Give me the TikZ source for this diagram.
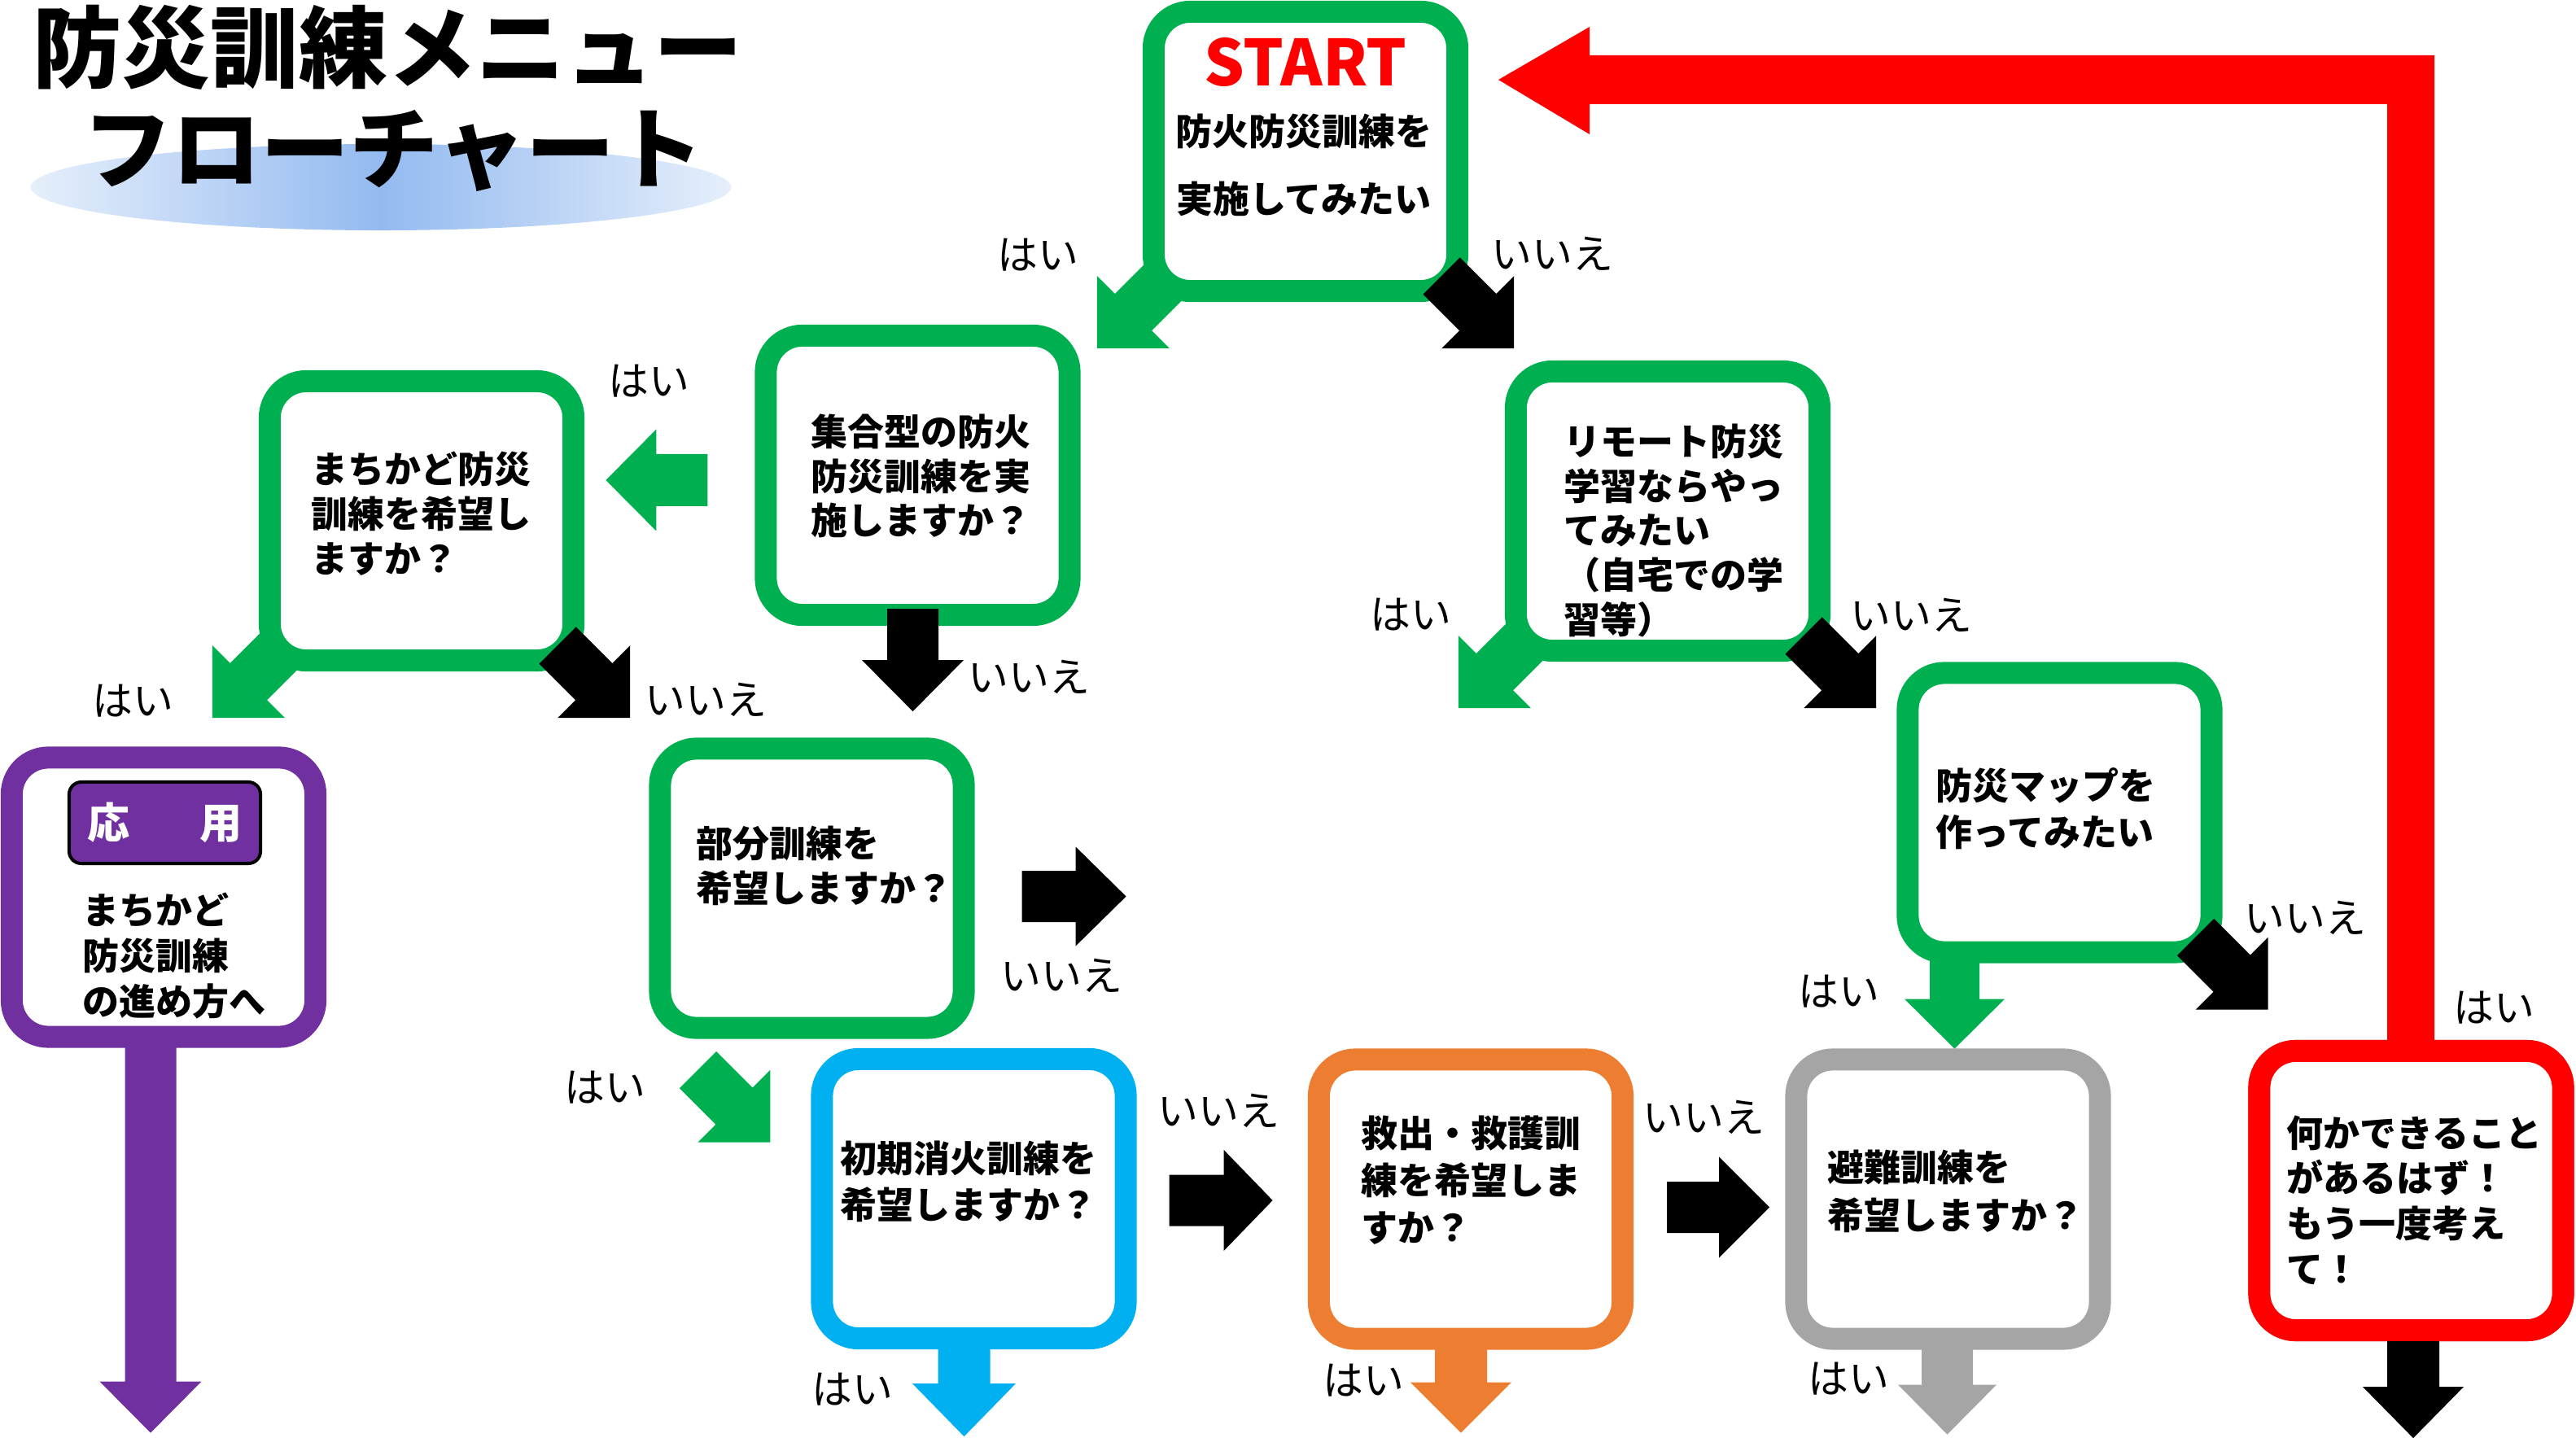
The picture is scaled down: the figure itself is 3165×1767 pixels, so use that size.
\documentclass[tikz,border=0pt]{standalone}
\usepackage{fontspec}
\newfontfamily\jp{Noto Sans CJK JP}
\usetikzlibrary{calc}
\definecolor{cgreen}{HTML}{00B050}
\definecolor{cblue}{HTML}{00B0F0}
\definecolor{corange}{HTML}{ED7D31}
\definecolor{cgray}{HTML}{A5A5A5}
\definecolor{cred}{HTML}{FF0000}
\definecolor{cpurple}{HTML}{7030A0}
\definecolor{elledge}{HTML}{E6EFFB}
\definecolor{ellmid}{HTML}{93BAF0}
\tikzset{
  pics/barrow/.style n args={4}{code={
    \fill (0,{-#2/2}) -- (#1,{-#2/2}) -- (#1,{-#4/2}) -- ({#1+#3},0) -- (#1,{#4/2}) -- (#1,{#2/2}) -- (0,{#2/2}) -- cycle;
  }},
}
\begin{document}
\begin{tikzpicture}[x=0.01cm,y=-0.01cm,
  flowbox/.style={draw=#1, fill=white, line width=0.27cm, rounded corners=0.45cm,
    minimum width=3.73cm, minimum height=3.43cm, inner sep=0pt},
  btxt/.style={anchor=north west, inner sep=0pt, align=left,
    font=\jp\bfseries\fontsize{12.8pt}{15.6pt}\selectfont},
  lbl/.style={anchor=north west, inner sep=0pt, font=\jp\fontsize{14.2pt}{17pt}\selectfont},
  ttl/.style={anchor=north west, inner sep=0pt, font=\jp\bfseries\fontsize{31pt}{36pt}\selectfont},
]
\useasboundingbox (0,0) rectangle (3165,1767);

% title
\shade[left color=elledge, right color=elledge, middle color=ellmid]
  (468,230) ellipse [x radius=4.3cm, y radius=0.53cm];
\node[ttl] (title1) at (40,5) {防災訓練メニュー};
\node[ttl] (title2) at (102,135) {フローチャート};

% centres of the boxes that have arrows underneath
\path (1604,186) coordinate (cstart)
      (1127.5,584) coordinate (cgather)
      (518,640) coordinate (cmachi)
      (2049,628) coordinate (cremote);

% green diagonal arrows under the boxes
\pic[cgreen, rotate=-135] at ($(cstart)+(-200,185)+(33,-32)$) {barrow={63}{64}{63}{126}};
\pic[cgreen, rotate=-135] at ($(cmachi)+(-201,185)+(33,-32)$) {barrow={63}{64}{63}{126}};
\pic[cgreen, rotate=-135] at ($(cremote)+(-201,185)+(33,-32)$) {barrow={63}{64}{63}{126}};

% red return path
\node[flowbox=cred] (nanika) at (2962.5,1463) {};
\fill[cred] ($(nanika.north)+(-29.5,8)$) |- (1953,128) -- (1953,165) -- (1841,98)
  -- (1953,33) -- (1953,68) -| ($(nanika.north)+(28.5,8)$) -- cycle;
\node[flowbox=cred] at (nanika) {};

\node[flowbox=cgreen] (start) at (cstart) {};
\node[flowbox=cgreen] (gather) at (cgather) {};
\node[flowbox=cgreen] (machi) at (cmachi) {};
\node[flowbox=cpurple] (ouyou) at (201,1102.5) {};
\node[flowbox=cgreen] (bubun) at (997.5,1091.5) {};
\node[flowbox=cblue] (shoki) at (1196.5,1473) {};
\node[flowbox=corange] (kyushutsu) at (1807,1473.5) {};
\node[flowbox=cgray] (hinan) at (2393.5,1473.5) {};
\node[flowbox=cgreen] (remote) at (cremote) {};
\node[flowbox=cgreen] (map) at (2530.5,998.5) {};

% texts
\node[anchor=north, inner sep=0pt, text=cred, font=\jp\bfseries\fontsize{22.2pt}{26pt}\selectfont] (starttxt) at (1604,46) {START};
\node[anchor=north, inner sep=0pt, align=center, font=\jp\bfseries\fontsize{12.8pt}{23.8pt}\selectfont] (starttxt2) at (1602,139) {防火防災訓練を\\実施してみたい};
\node[btxt] (gathertxt) at (996,508) {集合型の防火\\防災訓練を実\\施しますか？};
\node[btxt] (machitxt) at (382,554) {まちかど防災\\訓練を希望し\\ますか？};
\node[fill=cpurple, draw=black, line width=0.04cm, rounded corners=0.15cm, minimum width=2.35cm, minimum height=1.0cm, inner sep=0pt, text=white, font=\jp\bfseries\fontsize{14.8pt}{17pt}\selectfont] (ouyoulbl) at (202.5,1011) {応\hspace{1.65em}用};
\node[btxt, font=\jp\bfseries\fontsize{12.8pt}{16pt}\selectfont] (ouyoutxt) at (101,1096) {まちかど\\防災訓練\\の進め方へ};
\node[btxt] (bubuntxt) at (855,1014) {部分訓練を\\希望しますか？};
\node[btxt, font=\jp\bfseries\fontsize{12.8pt}{16.2pt}\selectfont] (shokitxt) at (1032,1401) {初期消火訓練を\\希望しますか？};
\node[btxt, font=\jp\bfseries\fontsize{12.8pt}{16.5pt}\selectfont] (kyutxt) at (1672,1370) {救出・救護訓\\練を希望しま\\すか？};
\node[btxt, font=\jp\bfseries\fontsize{12.8pt}{16.8pt}\selectfont] (hinantxt) at (2245,1412) {避難訓練を\\希望しますか？};
\node[btxt, font=\jp\bfseries\fontsize{12.8pt}{15.8pt}\selectfont] (nanikatxt) at (2809,1370) {何かできること\\があるはず！\\もう一度考え\\て！};
\node[btxt] (remotetxt) at (1921,520) {リモート防災\\学習ならやっ\\てみたい\\（自宅での学\\習等）};
\node[btxt, font=\jp\bfseries\fontsize{12.8pt}{16.2pt}\selectfont] (maptxt) at (2378,943) {防災マップを\\作ってみたい};

% arrows on top
\pic[black, rotate=-45] at ($(start.south east)+(-33,-32)$) {barrow={63}{64}{63}{126}};
\pic[black, rotate=-45] at ($(machi.south east)+(-33,-32)$) {barrow={63}{64}{63}{126}};
\pic[black, rotate=-45] at ($(remote.south east)+(-33,-32)$) {barrow={63}{64}{63}{126}};
\pic[black, rotate=-45] at ($(map.south east)+(-33,-32)$) {barrow={63}{64}{63}{126}};
\pic[cgreen, rotate=-45] at ($(bubun.south west)+(60,38)$) {barrow={63}{64}{63}{126}};
\pic[cgreen, rotate=180] at ($(gather.west)+(-58,6)$) {barrow={63}{64}{62}{125}};
\pic[black, rotate=-90] at ($(gather.south)+(-6,-21)$) {barrow={63}{63}{63}{125}};
\pic[black] at ($(bubun.east)+(58,10)$) {barrow={66}{63}{62}{122}};
\pic[black] at ($(shoki.east)+(40,2)$) {barrow={67}{63}{60}{124}};
\pic[black] at ($(kyushutsu.east)+(41,10)$) {barrow={64}{63}{62}{124}};
\pic[cblue, rotate=-90] at ($(shoki.south)+(-12,-8)$) {barrow={50}{64}{65}{127}};
\pic[corange, rotate=-90] at ($(kyushutsu.south)+(-12,-8)$) {barrow={48}{64}{62}{124}};
\pic[cgray, rotate=-90] at ($(hinan.south)+(-1,-8)$) {barrow={51}{63}{61}{121}};
\pic[cgreen, rotate=-90] at ($(map.south)+(-129,-8)$) {barrow={52}{61}{61}{123}};
\pic[black, rotate=-90] at ($(nanika.south)+(2.5,0)$) {barrow={56}{64}{63}{124}};
\pic[cpurple, rotate=-90] at ($(ouyou.south)+(-16,-7)$) {barrow={417}{63}{63}{125}};

% labels
\node[lbl] (l1) at (1225,292) {はい};
\node[lbl] (l2) at (1832,290) {いいえ};
\node[lbl] (l3) at (747,447) {はい};
\node[lbl] (l4) at (1189,810) {いいえ};
\node[lbl] (l5) at (113,840) {はい};
\node[lbl] (l6) at (792,838) {いいえ};
\node[lbl] (l7) at (1229,1177) {いいえ};
\node[lbl] (l8) at (693,1315) {はい};
\node[lbl] (l9) at (1422,1343) {いいえ};
\node[lbl] (l10) at (997,1686) {はい};
\node[lbl] (l11) at (2018,1351) {いいえ};
\node[lbl] (l12) at (1625,1675) {はい};
\node[lbl] (l13) at (2221,1673) {はい};
\node[lbl] (l14) at (1683,734) {はい};
\node[lbl] (l15) at (2273,734) {いいえ};
\node[lbl] (l16) at (2757,1106) {いいえ};
\node[lbl] (l17) at (2209,1197) {はい};
\node[lbl] (l18) at (3014,1217) {はい};
\end{tikzpicture}
\end{document}
